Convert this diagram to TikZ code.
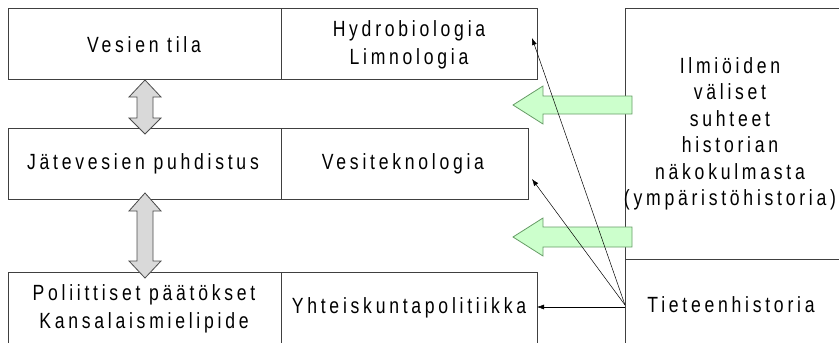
\documentclass[tikz,border=0pt]{standalone}
\usepackage{fontspec}
\setmainfont{Liberation Sans}[FakeStretch=0.8,LetterSpace=17]
\usetikzlibrary{arrows.meta}
\begin{document}
\begin{tikzpicture}[x=1pt,y=-1pt,
  box/.style={draw=black!75,line width=0.9pt},
  lbl/.style={font=\fontsize{22}{28}\selectfont,align=center,inner sep=0pt},
  biglbl/.style={font=\fontsize{22}{26.5}\selectfont,align=center,inner sep=0pt},
  grayarrow/.style={draw=black!70,fill=black!15,line width=0.8pt},
  greenarrow/.style={draw=green!35!black!60,fill=green!20,line width=0.8pt},
  thin/.style={-{Latex[length=7pt,width=5pt]},line width=0.5pt}]
\useasboundingbox (0,0) rectangle (839,343);
% boxes
\draw[box] (8,8) rectangle (281,79);
\draw[box] (281,8) rectangle (537,79);
\draw[box] (8,128) rectangle (281,199);
\draw[box] (281,128) rectangle (528,199);
\draw[box] (8,272) rectangle (281,345);
\draw[box] (281,272) rectangle (537,345);
\draw[box] (625,345) -- (625,8) -- (845,8);
\draw[box] (625,259) -- (845,259);
% labels
\node[lbl] (vt) at (144,45) {Vesien tila};
\node[lbl] (hl) at (409,45) {Hydrobiologia\\Limnologia};
\node[lbl] (jp) at (143,164) {Jätevesien puhdistus};
\node[lbl] (vk) at (403,164) {Vesiteknologia};
\node[lbl] (pp) at (144,309) {Poliittiset päätökset\\Kansalaismielipide};
\node[lbl] (yp) at (409,308) {Yhteiskuntapolitiikka};
\node[biglbl] (im) at (730,134) {Ilmiöiden\\väliset\\suhteet\\historian\\näkokulmasta\\(ympäristöhistoria)};
\node[lbl] (th) at (731,305) {Tieteenhistoria};
% gray double arrows
\draw[grayarrow] (145,80) -- (161,97) -- (153,97) -- (153,118) -- (161,118) -- (145,134)
  -- (129,118) -- (137,118) -- (137,97) -- (129,97) -- cycle;
\draw[grayarrow] (145,193) -- (161,211) -- (153,211) -- (153,261) -- (161,261) -- (145,278)
  -- (129,261) -- (137,261) -- (137,211) -- (129,211) -- cycle;
% green arrows
\draw[greenarrow] (632,96) -- (543,96) -- (543,86) -- (513,105) -- (543,124) -- (543,114) -- (632,114) -- cycle;
\draw[greenarrow] (632,227) -- (543,227) -- (543,218) -- (513,237) -- (543,256) -- (543,247) -- (632,247) -- cycle;
% thin arrows
\coordinate (src) at (625,305);
\coordinate (t1) at (532,38);
\coordinate (t2) at (532,179);
\coordinate (t3) at (537,307);
\draw[thin] (src) -- (t1);
\draw[thin] (src) -- (t2);
\draw[thin] (625,307) -- (t3);
\end{tikzpicture}
\end{document}
